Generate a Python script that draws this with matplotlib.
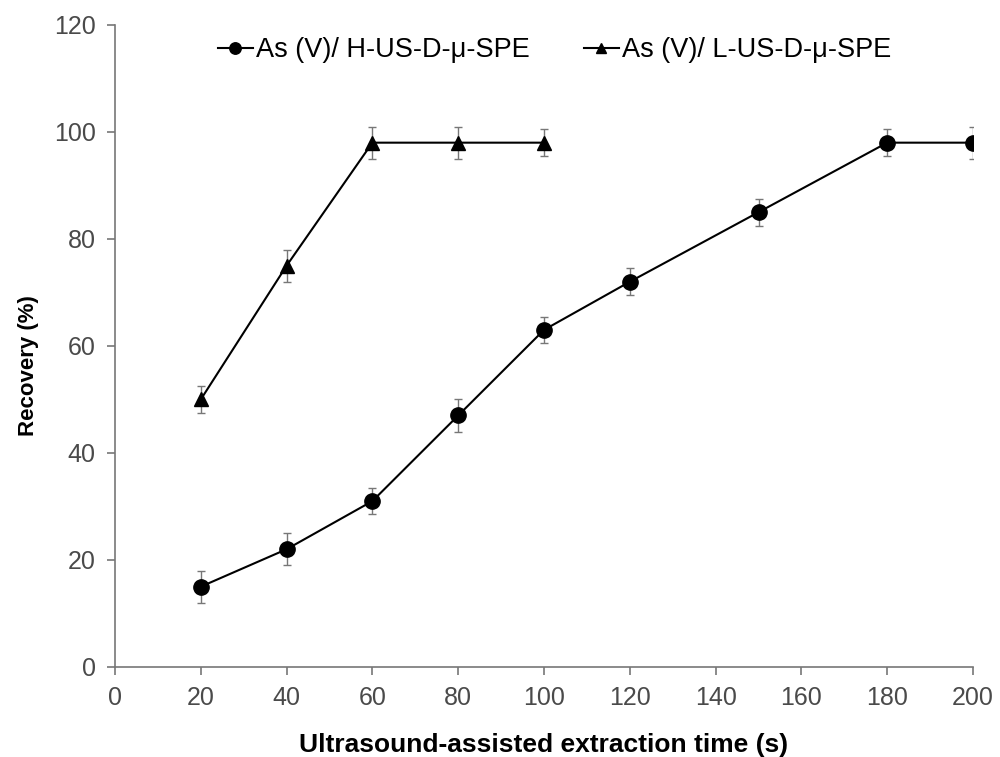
import matplotlib
matplotlib.use("Agg")
import matplotlib.pyplot as plt

x_h = [20, 40, 60, 80, 100, 120, 150, 180, 200]
y_h = [15, 22, 31, 47, 63, 72, 85, 98, 98]
err_h = [3, 3, 2.5, 3, 2.5, 2.5, 2.5, 2.5, 3]

x_l = [20, 40, 60, 80, 100]
y_l = [50, 75, 98, 98, 98]
err_l = [2.5, 3, 3, 3, 2.5]

label_h = "As (V)/ H-US-D-\u03bc-SPE"
label_l = "As (V)/ L-US-D-\u03bc-SPE"

plt.rcParams['font.family'] = ['Liberation Sans', 'DejaVu Sans']

fig = plt.figure(figsize=(10, 7.57), dpi=100)
ax = fig.add_axes([0.115, 0.119, 0.858, 0.848])

ax.errorbar(x_h, y_h, yerr=err_h, fmt='none', ecolor='#777777', elinewidth=1, capsize=3, zorder=2)
ax.errorbar(x_l, y_l, yerr=err_l, fmt='none', ecolor='#777777', elinewidth=1, capsize=3, zorder=2)
ax.plot(x_h, y_h, '-o', color='black', lw=1.5, markersize=11, label=label_h, zorder=3)
ax.plot(x_l, y_l, '-^', color='black', lw=1.5, markersize=10, label=label_l, zorder=3)

ax.set_xlim(0, 200)
ax.set_ylim(0, 120)
ax.set_xticks(range(0, 201, 20))
ax.set_yticks(range(0, 121, 20))

for s in ['top', 'right']:
    ax.spines[s].set_visible(False)
for s in ['left', 'bottom']:
    ax.spines[s].set_color('#777777')
    ax.spines[s].set_linewidth(1.2)
ax.tick_params(direction='out', length=6, color='#777777', labelcolor='#4a4a4a',
               labelsize=18, width=1.2, pad=8)

ax.set_xlabel("Ultrasound-assisted extraction time (s)", fontsize=19, fontweight='bold', labelpad=16)
ax.set_ylabel("Recovery (%)", fontsize=16, fontweight='bold')
ax.yaxis.set_label_coords(-0.088, 0.469)

ax.legend(loc='center', bbox_to_anchor=(0.512, 0.961), ncol=2, frameon=False,
          fontsize=19.5, handlelength=1.3, handletextpad=0.1, columnspacing=2.0, markerscale=0.75)

fig.savefig("out.png", dpi=100)
